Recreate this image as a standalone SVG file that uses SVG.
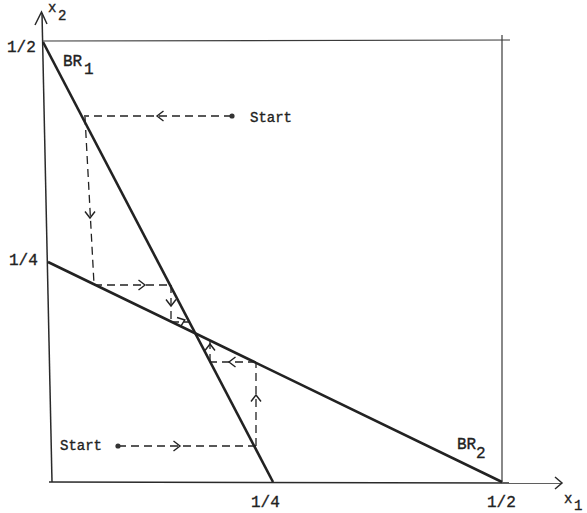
<svg xmlns="http://www.w3.org/2000/svg" width="587" height="513" viewBox="0 0 587 513">
<style>
.ax{stroke:#2a2a2a;stroke-width:1.5;fill:none}
.bx{stroke:#3a3a3a;stroke-width:1.2;fill:none}
.br{stroke:#222;stroke-width:2.6;fill:none}
.d{stroke:#222;stroke-width:1.3;fill:none;stroke-dasharray:8 5}
.ch{stroke:#222;stroke-width:1.4;fill:none}
text{font-family:"Liberation Mono","Courier New",monospace;fill:#222;stroke:#222;stroke-width:0.35;font-size:14px}
.n{font-size:16px}
</style>
<defs>
<path id="chev" d="M-3.5,-5 L3,0 L-3.5,5"/>
</defs>
<rect width="587" height="513" fill="#fff"/>
<g id="axes">
<path class="ax" d="M52,482 L42,13"/>
<path class="ax" d="M35,25 L41.5,12 L47,24"/>
<path class="ax" d="M49,482 L562,483"/>
<path class="ax" d="M555,477 L562,483 L555,489"/>
<path class="bx" d="M43,41 L510,40"/>
<path class="bx" d="M502,35 L502,482"/>
</g>
<g id="BR1">
<path class="br" d="M43,42 L273,482"/>
<text class="n" x="63" y="66">BR</text><text class="n" x="84" y="74">1</text>
</g>
<g id="BR2">
<path class="br" d="M48,262 L502,482"/>
<text class="n" x="457" y="449">BR</text><text class="n" x="476" y="458">2</text>
</g>
<g id="connectors">
<path class="d" d="M232,116 L84,116"/>
<path class="d" d="M85,117 L94,284"/>
<path class="d" d="M94,285 L171,285"/>
<path class="d" d="M171,285 L171,322"/>
<path class="d" d="M171,322 L189,322"/>
<path class="d" d="M118,446 L256,446"/>
<path class="d" d="M256,446 L256,362"/>
<path class="d" d="M256,362 L210,362"/>
<path class="d" d="M210,362 L210,341"/>
<use href="#chev" class="ch" transform="translate(160,116) rotate(180)"/>
<use href="#chev" class="ch" transform="translate(90,215) rotate(90)"/>
<use href="#chev" class="ch" transform="translate(142,285)"/>
<use href="#chev" class="ch" transform="translate(171,303) rotate(90)"/>
<use href="#chev" class="ch" transform="translate(182,321) rotate(-20)"/>
<use href="#chev" class="ch" transform="translate(177,446)"/>
<use href="#chev" class="ch" transform="translate(256,398) rotate(-90)"/>
<use href="#chev" class="ch" transform="translate(232,362) rotate(180)"/>
<use href="#chev" class="ch" transform="translate(210,347) rotate(-90)"/>
</g>
<g id="start1">
<circle cx="232" cy="116" r="2.6" fill="#333"/>
<text x="250" y="122">Start</text>
</g>
<g id="start2">
<circle cx="118" cy="446" r="2.6" fill="#333"/>
<text x="60" y="450">Start</text>
</g>
<g id="labels">
<text x="48" y="12">x</text><text x="58" y="20">2</text>
<text class="n" x="7" y="52">1/2</text>
<text class="n" x="9" y="265">1/4</text>
<text class="n" x="251" y="507">1/4</text>
<text class="n" x="487" y="507">1/2</text>
<text x="564" y="503">x</text><text x="574" y="510">1</text>
</g>
</svg>
